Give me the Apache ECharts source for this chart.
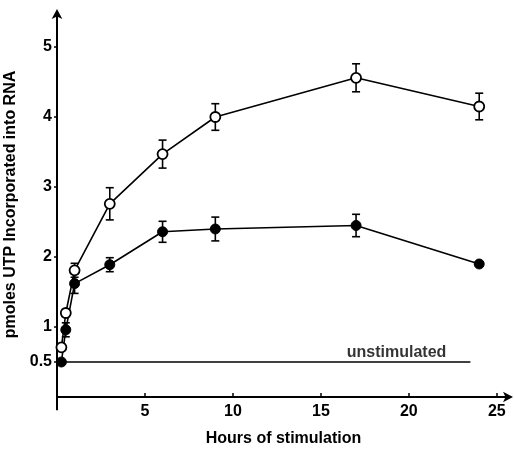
<!DOCTYPE html>
<html><head><meta charset="utf-8">
<script src="https://cdn.jsdelivr.net/npm/echarts@6/dist/echarts.min.js"></script>
<style>html,body{margin:0;padding:0;background:#fff}#c{width:514px;height:449px}</style>
</head><body><div id="c"></div>
<script>
var hours = [0.25, 0.5, 1, 3, 6, 9, 17, 24];
var stimulated = [0.71, 1.2, 1.81, 2.76, 3.47, 4.0, 4.56, 4.15];
var stimulatedErr = [0, 0.05, 0.1, 0.23, 0.2, 0.19, 0.2, 0.19];
var costim = [0.5, 0.96, 1.62, 1.89, 2.36, 2.4, 2.45, 1.9];
var costimErr = [0, 0.1, 0.14, 0.1, 0.15, 0.17, 0.16, 0];
var unstimX = [0, 23.5];
var unstimY = [0.5, 0.5];
var unstimLabelPos = [19.3, 0.64];
var xTicks = [5, 10, 15, 20, 25];
var yTicks = [0.5, 1, 2, 3, 4, 5];
// short stubs of the axes that cross past the origin
var xStubX = [-0.68, 0], xStubY = [0, 0];
var yStubX = [0, 0], yStubY = [-0.19, 0];

var font = '"Liberation Sans", Arial, sans-serif';
var chart = echarts.init(document.getElementById('c'));

function pts(x, y) { return x.map(function (v, i) { return [v, y[i]]; }); }
function errData(x, y, e) { return x.map(function (v, i) { return [v, y[i] - e[i], y[i] + e[i]]; }).filter(function (d, i) { return e[i] > 0; }); }

function errRender(params, api) {
  var x = api.value(0), lo = api.value(1), hi = api.value(2);
  var p1 = api.coord([x, lo]), p2 = api.coord([x, hi]);
  var w = 4;
  var st = { stroke: '#000', lineWidth: 1.6 };
  return { type: 'group', children: [
    { type: 'line', shape: { x1: p1[0], y1: p1[1], x2: p2[0], y2: p2[1] }, style: st },
    { type: 'line', shape: { x1: p1[0] - w, y1: p1[1], x2: p1[0] + w, y2: p1[1] }, style: st },
    { type: 'line', shape: { x1: p2[0] - w, y1: p2[1], x2: p2[0] + w, y2: p2[1] }, style: st }
  ]};
}

chart.setOption({
  animation: false,
  backgroundColor: '#fff',
  grid: { left: 57, right: 4, top: 12, bottom: 52, containLabel: false, outerBoundsMode: 'none' },
  xAxis: {
    type: 'value', min: 0, max: 25.75,
    axisLine: { lineStyle: { color: '#000', width: 2 }, symbol: ['none', 'arrow'], symbolSize: [8, 10], symbolOffset: [0, 3] },
    axisTick: { show: true, inside: true, length: 4, customValues: xTicks, lineStyle: { color: '#000', width: 1.5 } },
    axisLabel: { customValues: xTicks, color: '#000', fontFamily: font, fontWeight: 'bold', fontSize: 16, margin: 7 },
    splitLine: { show: false },
    name: 'Hours of stimulation', nameLocation: 'middle', nameGap: 34,
    nameTextStyle: { color: '#000', fontFamily: font, fontWeight: 'bold', fontSize: 16 }
  },
  yAxis: {
    type: 'value', min: 0, max: 5.5,
    axisLine: { lineStyle: { color: '#000', width: 2 }, symbol: ['none', 'arrow'], symbolSize: [8, 10], symbolOffset: [0, 3] },
    axisTick: { show: true, inside: false, length: 3, customValues: yTicks, lineStyle: { color: '#000', width: 1.5 } },
    axisLabel: { customValues: yTicks, color: '#000', fontFamily: font, fontWeight: 'bold', fontSize: 16, margin: 5,
      formatter: function (v) { return String(v); } },
    splitLine: { show: false },
    name: 'pmoles UTP Incorporated into RNA', nameLocation: 'middle', nameGap: 31, nameRotate: 90,
    nameTextStyle: { color: '#000', fontFamily: font, fontWeight: 'bold', fontSize: 16 }
  },
  series: [
    { type: 'line', data: pts(xStubX, xStubY), symbol: 'none', clip: false, lineStyle: { color: '#000', width: 2 }, silent: true },
    { type: 'line', data: pts(yStubX, yStubY), symbol: 'none', clip: false, lineStyle: { color: '#000', width: 2 }, silent: true },
    { type: 'line', data: pts(unstimX, unstimY), symbol: 'none', lineStyle: { color: '#000', width: 1.6 }, z: 1, silent: true },
    { type: 'scatter', data: [unstimLabelPos], symbolSize: 0,
      label: { show: true, position: 'inside', formatter: 'unstimulated', color: '#000', fontFamily: font, fontWeight: 'bold', fontSize: 16 } },
    { type: 'custom', renderItem: errRender, data: errData(hours, stimulated, stimulatedErr), z: 2 },
    { type: 'custom', renderItem: errRender, data: errData(hours, costim, costimErr), z: 2 },
    { type: 'line', data: pts(hours, stimulated), symbol: 'circle', symbolSize: 10, showAllSymbol: true,
      lineStyle: { color: '#000', width: 1.6 }, itemStyle: { color: '#fff', borderColor: '#000', borderWidth: 1.8 }, z: 3 },
    { type: 'line', data: pts(hours, costim), symbol: 'circle', symbolSize: 10, showAllSymbol: true,
      lineStyle: { color: '#000', width: 1.6 }, itemStyle: { color: '#000', borderColor: '#000', borderWidth: 1 }, z: 3 }
  ]
});
</script></body></html>
